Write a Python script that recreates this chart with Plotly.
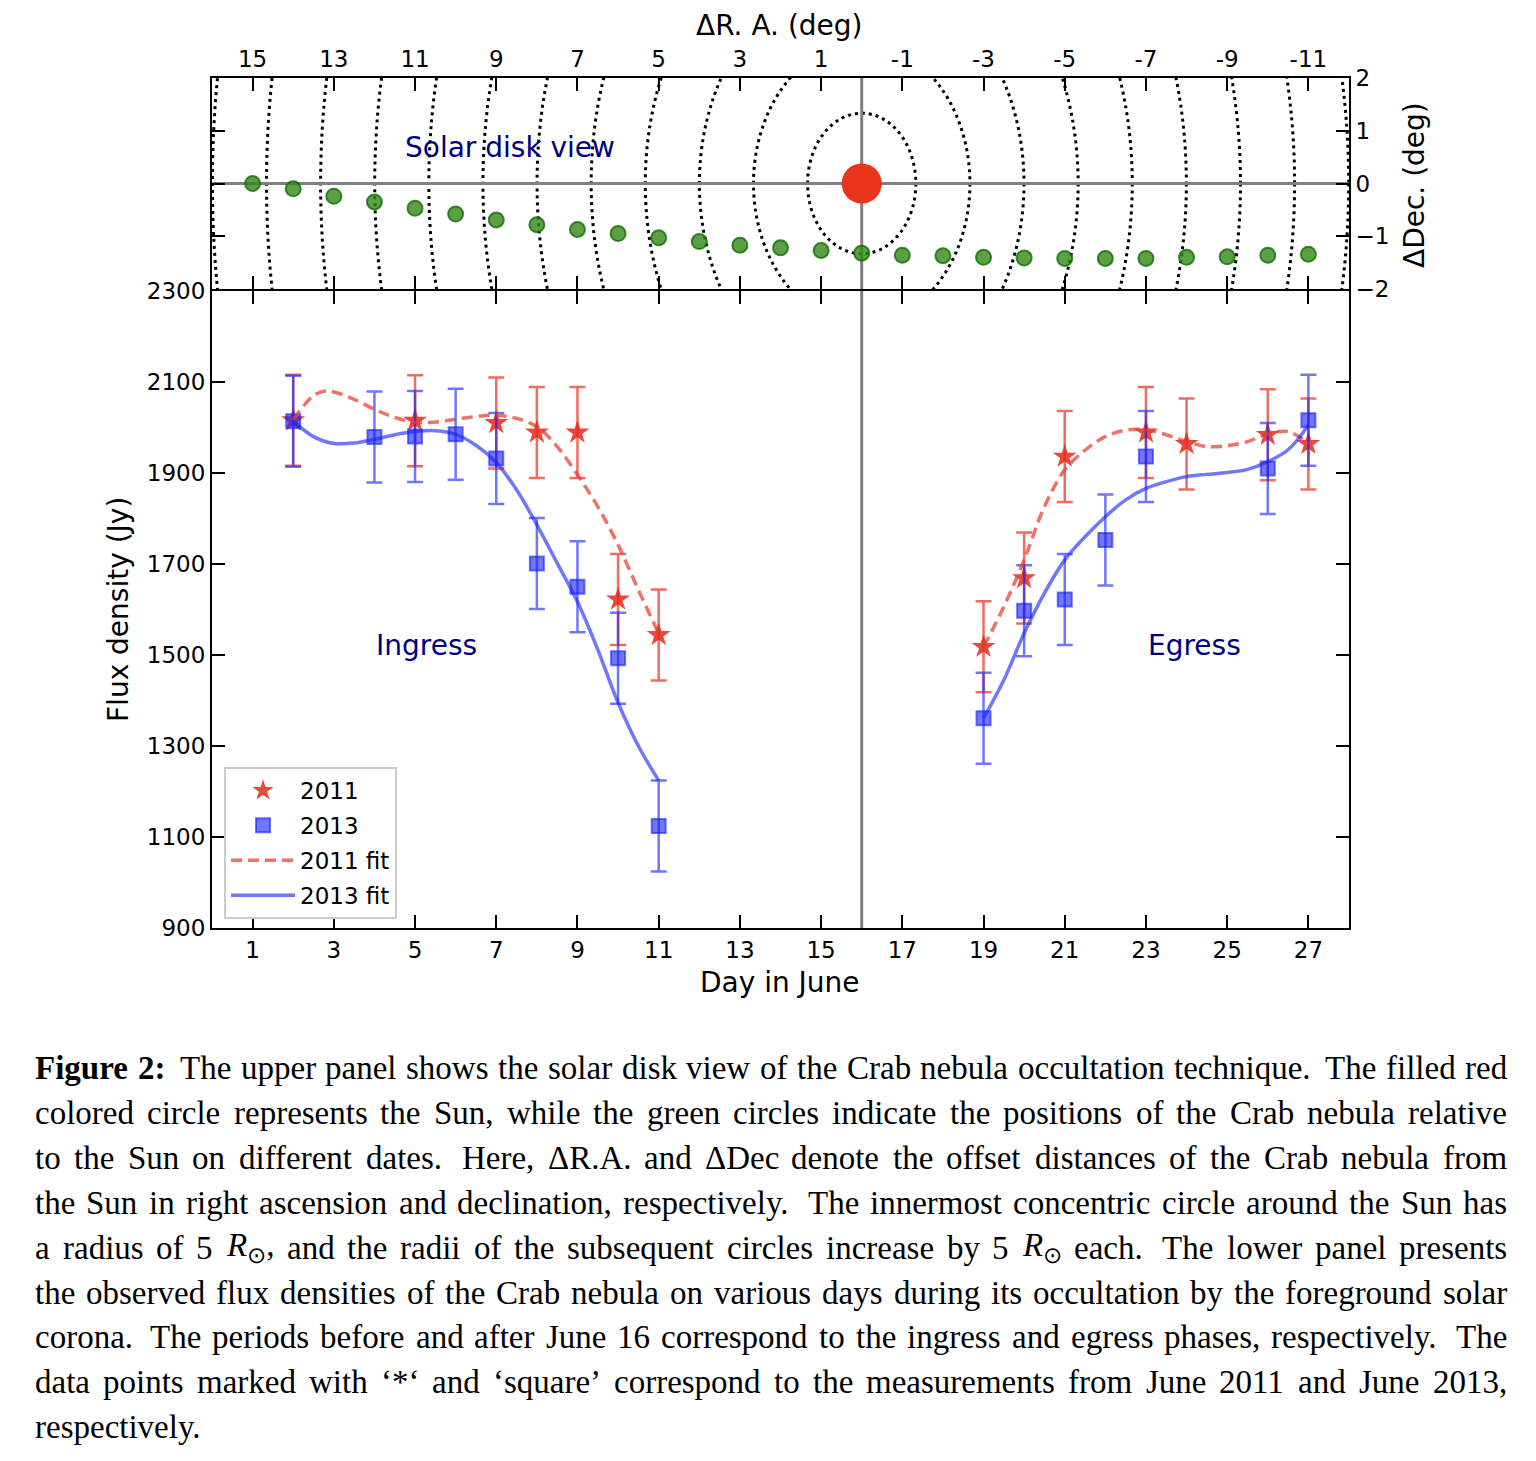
import plotly.graph_objects as go

W, H = 1536, 1461

# ---------------- upper panel: solar disk view ----------------
crab_dra = [15, 14, 13, 12, 11, 10, 9, 8, 7, 6, 5, 4, 3, 2, 1, 0,
            -1, -2, -3, -4, -5, -6, -7, -8, -9, -10, -11]
crab_ddec = [0.00, -0.10, -0.24, -0.35, -0.47, -0.58, -0.69, -0.78, -0.87, -0.95,
             -1.03, -1.10, -1.17, -1.22, -1.27, -1.32, -1.36, -1.37, -1.40, -1.41,
             -1.42, -1.42, -1.42, -1.40, -1.39, -1.36, -1.34]
sun_dra = [0]
sun_ddec = [0]
ring_radius_step = 1.3325   # 5 solar radii in degrees
ring_count = 12
ra_tick_vals = [15, 13, 11, 9, 7, 5, 3, 1, -1, -3, -5, -7, -9, -11]
ra_tick_text = ["15", "13", "11", "9", "7", "5", "3", "1", "-1", "-3", "-5", "-7", "-9", "-11"]
dec_tick_vals = [2, 1, 0, -1, -2]
dec_tick_text = ["2", "1", "0", "\u22121", "\u22122"]

# ---------------- lower panel: flux densities ----------------
day_2011 = [2, 5, 7, 8, 9, 10, 11, 19, 20, 21, 23, 24, 26, 27]
flux_2011 = [2016, 2015, 2010, 1989, 1989, 1622, 1544, 1518, 1669, 1936, 1989, 1964, 1984, 1964]
err_2011 = [100] * len(day_2011)

day_2013 = [2, 4, 5, 6, 7, 8, 9, 10, 11, 19, 20, 21, 22, 23, 26, 27]
flux_2013 = [2014, 1979, 1980, 1985, 1932, 1701, 1650, 1493, 1124, 1361, 1597, 1622, 1753, 1936, 1910, 2016]
err_2013 = [100] * len(day_2013)

fit2011_ing_day = [2, 2.5, 2.8, 3, 3.5, 4, 4.5, 5, 5.5, 6, 6.5, 7, 7.5, 8, 8.5, 9, 9.5, 10, 10.5, 11]
fit2011_ing_flux = [2017, 2070, 2080, 2078, 2062, 2040, 2022, 2011, 2012, 2018, 2024, 2027, 2020, 2002,
                    1958, 1896, 1826, 1742, 1643, 1547]
fit2013_ing_day = [2, 2.5, 3, 3.5, 4, 4.5, 5, 5.5, 6, 6.5, 7, 7.5, 8, 8.5, 9, 9.5, 10, 10.5, 11]
fit2013_ing_flux = [2014, 1980, 1965, 1966, 1974, 1984, 1991, 1993, 1985, 1961, 1923, 1863, 1786, 1702,
                    1617, 1512, 1395, 1300, 1224]
fit_egr_day = [19, 19.5, 20, 20.5, 21, 21.5, 22, 22.5, 23, 23.5, 24, 24.5, 25, 25.5, 26, 26.5, 27]
fit2011_egr_flux = [1518, 1606, 1709, 1826, 1907, 1950, 1980, 1994, 1995, 1984, 1969, 1958, 1960,
                    1969, 1986, 1991, 1965]
fit2013_egr_flux = [1361, 1445, 1548, 1636, 1709, 1760, 1804, 1841, 1866, 1881, 1892, 1897, 1901,
                    1908, 1925, 1951, 2005]

day_tick_vals = list(range(1, 28, 2))
flux_tick_vals = list(range(900, 2301, 200))
occultation_day = 16

# ---------------- styling ----------------
RED = "rgba(232,40,25,0.85)"
RED_BAR = "rgba(232,45,30,0.70)"
RED_FIT = "rgba(232,60,45,0.72)"
BLUE = "rgba(25,35,250,0.62)"
BLUE_BAR = "rgba(25,35,250,0.62)"
NAVY = "#00007f"
FONT = "DejaVu Sans"


def px(x):
    return x / W


def py(y):
    return 1 - y / H


x_dom = [px(212), px(1349)]
low_dom = [py(928), py(291)]
up_dom = [py(289), py(78)]

fig = go.Figure()

# upper panel traces
fig.add_trace(go.Scatter(
    x=crab_dra, y=crab_ddec, mode="markers", xaxis="x2", yaxis="y2", showlegend=False,
    marker=dict(size=15, color="rgba(51,136,24,0.8)", line=dict(color="rgba(20,110,5,0.8)", width=2)),
    hoverinfo="skip"))
fig.add_trace(go.Scatter(
    x=sun_dra, y=sun_ddec, mode="markers", xaxis="x2", yaxis="y2", showlegend=False,
    marker=dict(size=40, color="#e8341a", line=dict(width=0)), hoverinfo="skip"))

# lower panel traces
fig.add_trace(go.Scatter(
    x=day_2011, y=flux_2011, mode="markers", name="2011", legendgroup="a",
    marker=dict(symbol="star", size=18, color=RED, line=dict(width=0)),
    error_y=dict(type="data", array=err_2011, color=RED_BAR, thickness=2.5, width=8)))
fig.add_trace(go.Scatter(
    x=day_2013, y=flux_2013, mode="markers", name="2013", legendgroup="b",
    marker=dict(symbol="square", size=14, color=BLUE, line=dict(color=BLUE, width=2)),
    error_y=dict(type="data", array=err_2013, color=BLUE_BAR, thickness=2.5, width=8)))
fig.add_trace(go.Scatter(
    x=fit2011_ing_day, y=fit2011_ing_flux, mode="lines", name="2011 fit", legendgroup="c",
    line=dict(color=RED_FIT, width=3.5, dash="11px,6px", shape="spline", smoothing=1)))
fig.add_trace(go.Scatter(
    x=fit_egr_day, y=fit2011_egr_flux, mode="lines", name="2011 fit", legendgroup="c", showlegend=False,
    line=dict(color=RED_FIT, width=3.5, dash="11px,6px", shape="spline", smoothing=1)))
fig.add_trace(go.Scatter(
    x=fit2013_ing_day, y=fit2013_ing_flux, mode="lines", name="2013 fit", legendgroup="d",
    line=dict(color=BLUE, width=3.5, shape="spline", smoothing=1)))
fig.add_trace(go.Scatter(
    x=fit_egr_day, y=fit2013_egr_flux, mode="lines", name="2013 fit", legendgroup="d", showlegend=False,
    line=dict(color=BLUE, width=3.5, shape="spline", smoothing=1)))

# shapes: concentric rings, reference lines
shapes = []
for k in range(1, ring_count + 2):
    r = k * ring_radius_step
    shapes.append(dict(type="circle", xref="x2", yref="y2", x0=-r, x1=r, y0=-r, y1=r,
                       line=dict(color="black", width=3, dash="3px,4px"), layer="below"))
shapes.append(dict(type="line", xref="x2", yref="y2", x0=16, x1=-12, y0=0, y1=0,
                   line=dict(color="#808080", width=3), layer="below"))
shapes.append(dict(type="line", xref="x2", yref="y2", x0=0, x1=0, y0=-2, y1=2,
                   line=dict(color="#808080", width=3), layer="below"))
shapes.append(dict(type="line", xref="x", yref="y", x0=occultation_day, x1=occultation_day,
                   y0=900, y1=2300, line=dict(color="#808080", width=3), layer="below"))

axis_common = dict(showgrid=False, zeroline=False, showline=True, linecolor="black", linewidth=2,
                   ticks="inside", ticklen=13, tickwidth=2, tickcolor="black", mirror="ticks",
                   automargin=False,
                   tickfont=dict(family=FONT, size=23, color="black"))

annotations = []


def ann(text, x, y, size=28, color="black", angle=0, xanchor="center", yanchor="middle", family=FONT):
    annotations.append(dict(text=text, x=px(x), y=py(y), xref="paper", yref="paper", showarrow=False,
                            xanchor=xanchor, yanchor=yanchor, textangle=angle,
                            font=dict(family=family, size=size, color=color)))


ann("\u0394R. A. (deg)", 779, 25)
ann("Day in June", 780, 982)
ann("Flux density (Jy)", 118, 610, angle=-90)
ann("\u0394Dec. (deg)", 1414, 185, angle=-90)
ann("Solar disk view", 510, 148, color=NAVY)
ann("Ingress", 426, 646, color=NAVY)
ann("Egress", 1194, 646, color=NAVY)

# ---------------- caption (justified, word by word) ----------------
REG = dict(zip("abcdefghijklmnopqrstuvwxyz",
               [444, 500, 444, 500, 444, 333, 500, 500, 278, 278, 500, 278, 778, 500, 500, 500, 500,
                333, 389, 278, 500, 500, 722, 500, 500, 444]))
REG.update(zip("ABCDEFGHIJKLMNOPQRSTUVWXYZ",
               [722, 667, 667, 722, 611, 556, 722, 722, 333, 389, 722, 611, 889, 722, 722, 556, 722,
                667, 556, 611, 722, 722, 944, 722, 722, 611]))
REG.update({c: 500 for c in "0123456789"})
REG.update({".": 250, ",": 250, ":": 278, ";": 278, "(": 333, ")": 333, "-": 333, "*": 500,
            "\u2018": 333, "\u2019": 333, "\u0394": 612})
BOLD = {"F": 611, "i": 278, "g": 500, "u": 556, "r": 444, "e": 444, "2": 500, ":": 333}

caption_lines = [
    "**Figure **2: The upper panel shows the solar disk view of the Crab nebula occultation technique. The filled red",
    "colored circle represents the Sun, while the green circles indicate the positions of the Crab nebula relative",
    "to the Sun on different dates. Here, \u0394R.A. and \u0394Dec denote the offset distances of the Crab nebula from",
    "the Sun in right ascension and declination, respectively. The innermost concentric circle around the Sun has",
    "a radius of 5 @R, and the radii of the subsequent circles increase by 5 @R each. The lower panel presents",
    "the observed flux densities of the Crab nebula on various days during its occultation by the foreground solar",
    "corona. The periods before and after June 16 correspond to the ingress and egress phases, respectively. The",
    "data points marked with \u2018*\u2018 and \u2018square\u2019 correspond to the measurements from June 2011 and June 2013,",
    "respectively.",
]

CAP_SIZE = 33
CAP_LEFT, CAP_RIGHT = 34, 1506
CAP_MID0, CAP_STEP = 1068, 44.9


def token(word):
    """return (markup, width in 1/1000 em)"""
    if word.startswith("**"):
        w = word.strip("*")
        return "<b>%s</b>" % w, sum(BOLD.get(c, 500) for c in w)
    if word.startswith("@R"):
        tail = word[2:]
        return "<i>R</i><sub>\u2299</sub>" + tail, 611 + 590 + sum(REG.get(c, 500) for c in tail)
    return word, sum(REG.get(c, 500) for c in word)


for i, line in enumerate(caption_lines):
    words = line.split(" ")
    items = [token(t) for t in words]
    widths = [w * CAP_SIZE / 1000 for _, w in items]
    last = (i == len(caption_lines) - 1)
    n = len(items)
    weights = []
    for t in words[:-1]:
        plain = t.strip("*")
        wgt = 1.0
        if plain.endswith(".") and len(plain) > 2 and plain[-2].islower():
            wgt = 1.5
        if plain.endswith(":"):
            wgt = 1.5
        weights.append(wgt)
    if last or n < 2:
        unit = 250 * CAP_SIZE / 1000
    else:
        unit = (CAP_RIGHT - CAP_LEFT - sum(widths)) / sum(weights)
    x = CAP_LEFT
    y = CAP_MID0 + i * CAP_STEP
    for j, (markup, _) in enumerate(items):
        ann(markup, x - 1, y, size=CAP_SIZE, xanchor="left", family="Liberation Serif")
        x += widths[j]
        if j < n - 1:
            x += unit * weights[j]

fig.update_layout(
    width=W, height=H, margin=dict(l=0, r=0, t=0, b=0, pad=0, autoexpand=False),
    paper_bgcolor="white", plot_bgcolor="rgba(0,0,0,0)",
    font=dict(family=FONT, size=23, color="black"),
    xaxis=dict(axis_common, domain=x_dom, anchor="y", range=[0, 28], tickvals=day_tick_vals),
    yaxis=dict(axis_common, domain=low_dom, anchor="x", range=[900, 2300], tickvals=flux_tick_vals),
    xaxis2=dict(axis_common, domain=x_dom, anchor="y2", range=[16, -12], side="top",
                tickvals=ra_tick_vals, ticktext=ra_tick_text),
    yaxis2=dict(axis_common, domain=up_dom, anchor="x2", range=[-2, 2], side="right",
                tickvals=dec_tick_vals, ticktext=dec_tick_text),
    shapes=shapes,
    annotations=annotations,
    legend=dict(x=px(224), y=py(767), xanchor="left", yanchor="top",
                bgcolor="white", bordercolor="#cccccc", borderwidth=2,
                font=dict(family=FONT, size=23, color="black"),
                itemwidth=64, traceorder="grouped", tracegroupgap=2),
    showlegend=True,
)

fig.write_html("out.html")
